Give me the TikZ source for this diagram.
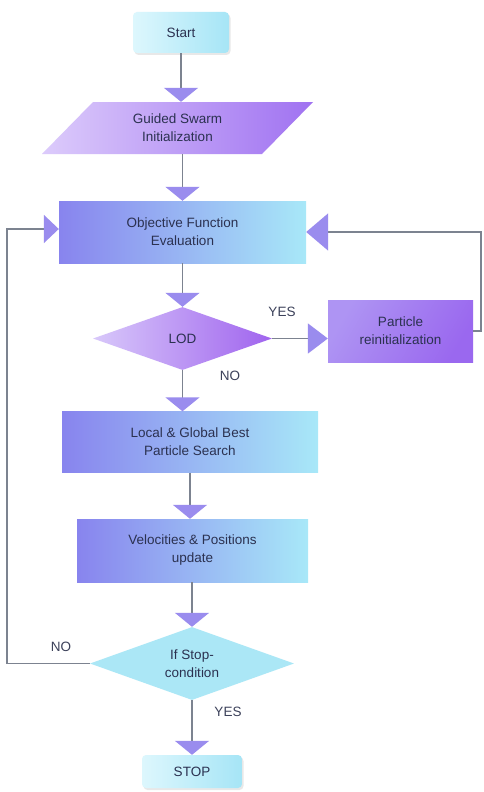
\documentclass[tikz,border=0pt]{standalone}
\usepackage{fontspec}
\setmainfont{Liberation Sans}
\usetikzlibrary{arrows.meta,shapes.geometric,shadows}
\definecolor{txtc}{HTML}{2B3150}
\definecolor{linec}{HTML}{7C8390}
\definecolor{arrc}{HTML}{9A8CEE}
\definecolor{cyanA}{HTML}{DDF7FD}
\definecolor{cyanB}{HTML}{A6E5F6}
\definecolor{boxL}{HTML}{8884EE}
\definecolor{boxR}{HTML}{A8E8F8}
\definecolor{parL}{HTML}{DCCBFB}
\definecolor{parR}{HTML}{A072F1}
\definecolor{lodL}{HTML}{D8C8FA}
\definecolor{lodR}{HTML}{A064EE}
\definecolor{parcL}{HTML}{AE94F3}
\definecolor{parcR}{HTML}{9A68EF}
\definecolor{stopc}{HTML}{ABE7F6}
\begin{document}
\begin{tikzpicture}[x=1pt,y=-1pt,
  txt/.style={font=\fontsize{13.5}{18}\selectfont, text=txtc, align=center, inner sep=0pt},
  term/.style={txt, rectangle, rounded corners=4pt, left color=cyanA, right color=cyanB,
     drop shadow={opacity=0.18, shadow xshift=1.5pt, shadow yshift=-2pt}},
  procbox/.style={txt, rectangle, left color=boxL, right color=boxR},
  decide/.style={txt, diamond, aspect=2.8},
  conn/.style={draw=linec, line width=1.8pt},
  vtip/.style={-{Triangle[width=34pt,length=14pt,color=arrc]}},
  lbl/.style={font=\fontsize{13.5}{16}\selectfont, text=txtc!80!gray, inner sep=0pt}]
\fill[white] (0,0) rectangle (483,792);
\useasboundingbox (0,0) rectangle (483,792);

% nodes
\node[term, minimum width=96pt, minimum height=41pt] (start) at (181,32.5) {Start};
\shade[left color=parL, right color=parR]
  (93,102) -- (313,102) -- (262,154) -- (42,154) -- cycle;
\node[txt, minimum width=220pt, minimum height=52pt] (para) at (177.5,128) {Guided Swarm\\Initialization};
\node[procbox, minimum width=247pt, minimum height=62pt] (obj) at (182.5,232) {Objective Function\\Evaluation};
\node[decide, shading=axis, left color=lodL, right color=lodR, minimum width=179pt, minimum height=63pt] (lod) at (182.5,338.5) {LOD};
\node[txt, rectangle, shading=axis, left color=parcL, right color=parcR, shading angle=60, minimum width=145pt, minimum height=62pt] (part) at (400.5,331) {Particle\\reinitialization};
\node[procbox, minimum width=256pt, minimum height=61pt] (local) at (190,442) {Local \& Global Best\\Particle Search};
\node[procbox, minimum width=231pt, minimum height=63pt] (vel) at (192.5,550.5) {Velocities \& Positions\\update};
\node[decide, fill=stopc, minimum width=204pt, minimum height=73pt] (ifs) at (192,663.5) {If Stop-\\condition};
\node[term, minimum width=100pt, minimum height=33pt] (stop) at (192,771.5) {STOP};

% labels
\node[lbl] (yes1) at (282,312) {YES};
\node[lbl] (no1) at (230,376) {NO};
\node[lbl] (no2) at (61,647) {NO};
\node[lbl] (yes2) at (228,712) {YES};

% connectors
\coordinate (rc1) at (481,331);
\coordinate (rc2) at (481,232);
\coordinate (lc1) at (7,663.5);
\coordinate (lc2) at (7,229);
\draw[conn, vtip] (start.south) -- (start.south |- para.north);
\draw[conn, vtip] (obj.north |- para.south) -- (obj.north);
\draw[conn, vtip] (obj.south) -- (lod.north);
\draw[conn, -{Triangle[width=30pt,length=20pt,color=arrc]}] (lod.east) -- (lod.east -| part.west);
\draw[conn, -{Triangle[width=37pt,length=22pt,color=arrc]}] (part.east) -- (rc1) -- (rc2) -- (obj.east);
\draw[conn, vtip] (lod.south) -- (lod.south |- local.north);
\draw[conn, vtip] (local.south) -- (local.south |- vel.north);
\draw[conn, vtip] (ifs.north |- vel.south) -- (ifs.north);
\draw[conn, -{Triangle[width=28pt,length=15pt,color=arrc]}] (ifs.west) -- (lc1) -- (lc2) -- (lc2 -| obj.west);
\draw[conn, vtip] (ifs.south) -- (stop.north);
\end{tikzpicture}
\end{document}
